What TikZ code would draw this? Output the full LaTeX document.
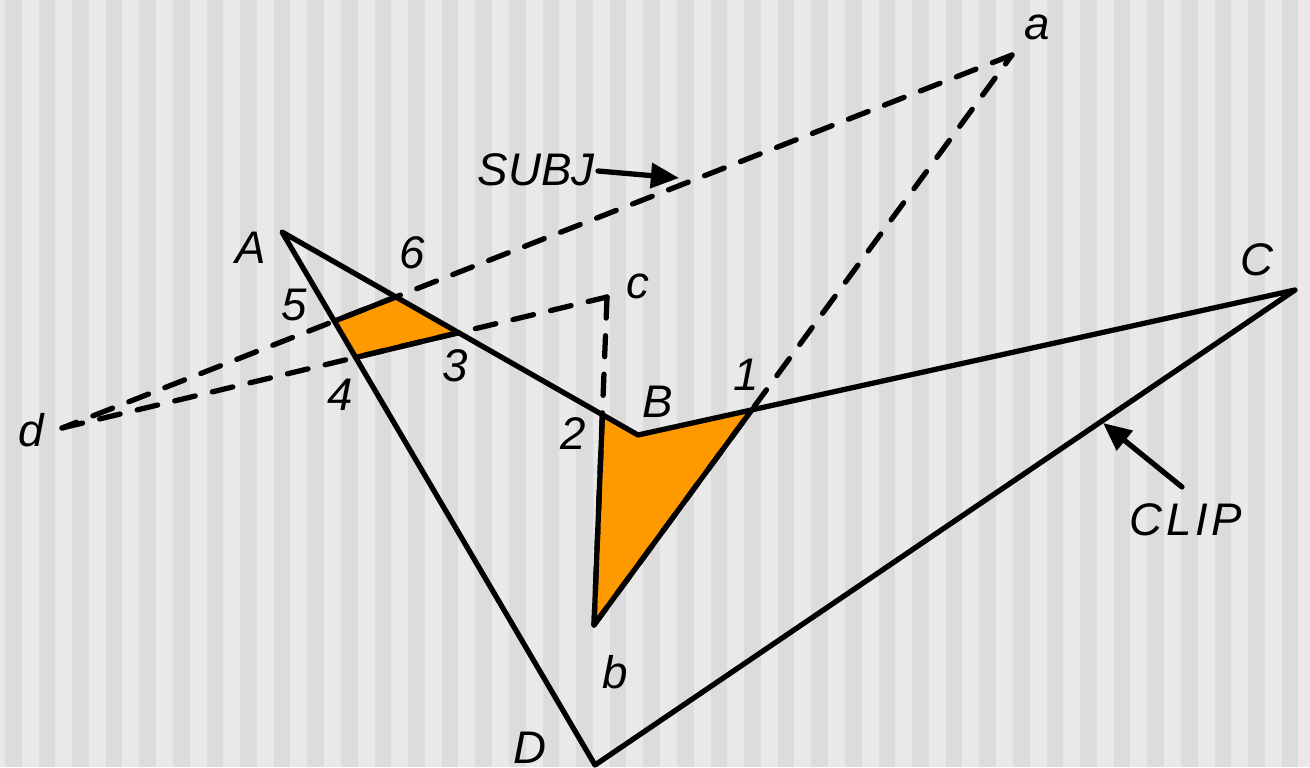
\documentclass[tikz,border=0pt]{standalone}
\usepackage{fontspec}
\setmainfont{Liberation Sans}
\usetikzlibrary{arrows.meta}
\definecolor{stripeA}{HTML}{E9E9E9}
\definecolor{stripeB}{HTML}{DCDCDC}
\definecolor{fillor}{HTML}{FF9900}
\begin{document}
\begin{tikzpicture}[x=0.02cm,y=-0.02cm,
  edge/.style={line width=3pt, line join=round, line cap=round},
  dashline/.style={edge, dash pattern=on 12pt off 10pt},
  lbl/.style={font=\fontsize{26}{30}\selectfont\itshape, inner sep=0pt},
  ptr/.style={line width=3pt, line cap=round, -{Triangle[length=16pt,width=14pt]}}]
% background
\useasboundingbox (0,0) rectangle (1310,767);
\fill[stripeA] (0,0) rectangle (1310,767);
\foreach \k in {0,...,38} \fill[stripeB] ({5+33.6*\k},0) rectangle ({21.5+33.6*\k},767);
% subject polygon
\coordinate (pa) at (1012,55);
\coordinate (pb) at (594,625);
\coordinate (pc) at (607,297);
\coordinate (pd) at (62,428);
% clip polygon
\coordinate (A) at (282,232);
\coordinate (B) at (638,435);
\coordinate (C) at (1295,290);
\coordinate (D) at (595,765);
% intersections
\coordinate (p1) at (intersection of B--C and pb--pa);
\coordinate (p2) at (intersection of A--B and pc--pb);
\coordinate (p3) at (intersection of A--B and pd--pc);
\coordinate (p4) at (intersection of A--D and pd--pc);
\coordinate (p5) at (intersection of A--D and pd--pa);
\coordinate (p6) at (intersection of A--B and pd--pa);
% clipped result
\fill[fillor] (p5)--(p6)--(p3)--(p4)--cycle;
\fill[fillor] (p2)--(B)--(p1)--(pb)--cycle;
% subject (dashed)
\draw[dashline] (pa)--(pd);
\draw[dashline] (pd)--(pc);
\draw[dashline] (pc)--(pb);
\draw[dashline] (pb)--(pa);
% clip (solid)
\draw[edge] (A)--(B)--(C)--(D)--cycle;
% clipped outlines
\draw[edge] (p5)--(p6) (p3)--(p4) (p2)--(pb)--(p1);
% labels
\node[lbl] (la) at (1037,27) {a};
\node[lbl] (lb) at (615,672) {b};
\node[lbl] (lc) at (638,286) {c};
\node[lbl] (ld) at (31,430) {d};
\node[lbl] (lA) at (251,248) {A};
\node[lbl] (lB) at (658,402) {B};
\node[lbl] (lC) at (1257,260) {C};
\node[lbl] (lD) at (530,748) {D};
\node[lbl] (l1) at (746,375) {1};
\node[lbl] (l2) at (573,434) {2};
\node[lbl] (l3) at (455,366) {3};
\node[lbl] (l4) at (340,395) {4};
\node[lbl] (l5) at (294,305) {5};
\node[lbl] (l6) at (412,253) {6};
\node[lbl] (lsubj) at (536,170) {SUBJ};
\node[lbl] (lclip) at (1186,520) {C\kern2pt L\kern2pt I\kern2pt P};
% pointers
\coordinate (s0) at (598,171);
\coordinate (s1) at (679,178);
\draw[ptr] (s0)--(s1);
\coordinate (c0) at (1182,487);
\coordinate (c1) at (1103,423);
\draw[ptr] (c0)--(c1);
\end{tikzpicture}
\end{document}
